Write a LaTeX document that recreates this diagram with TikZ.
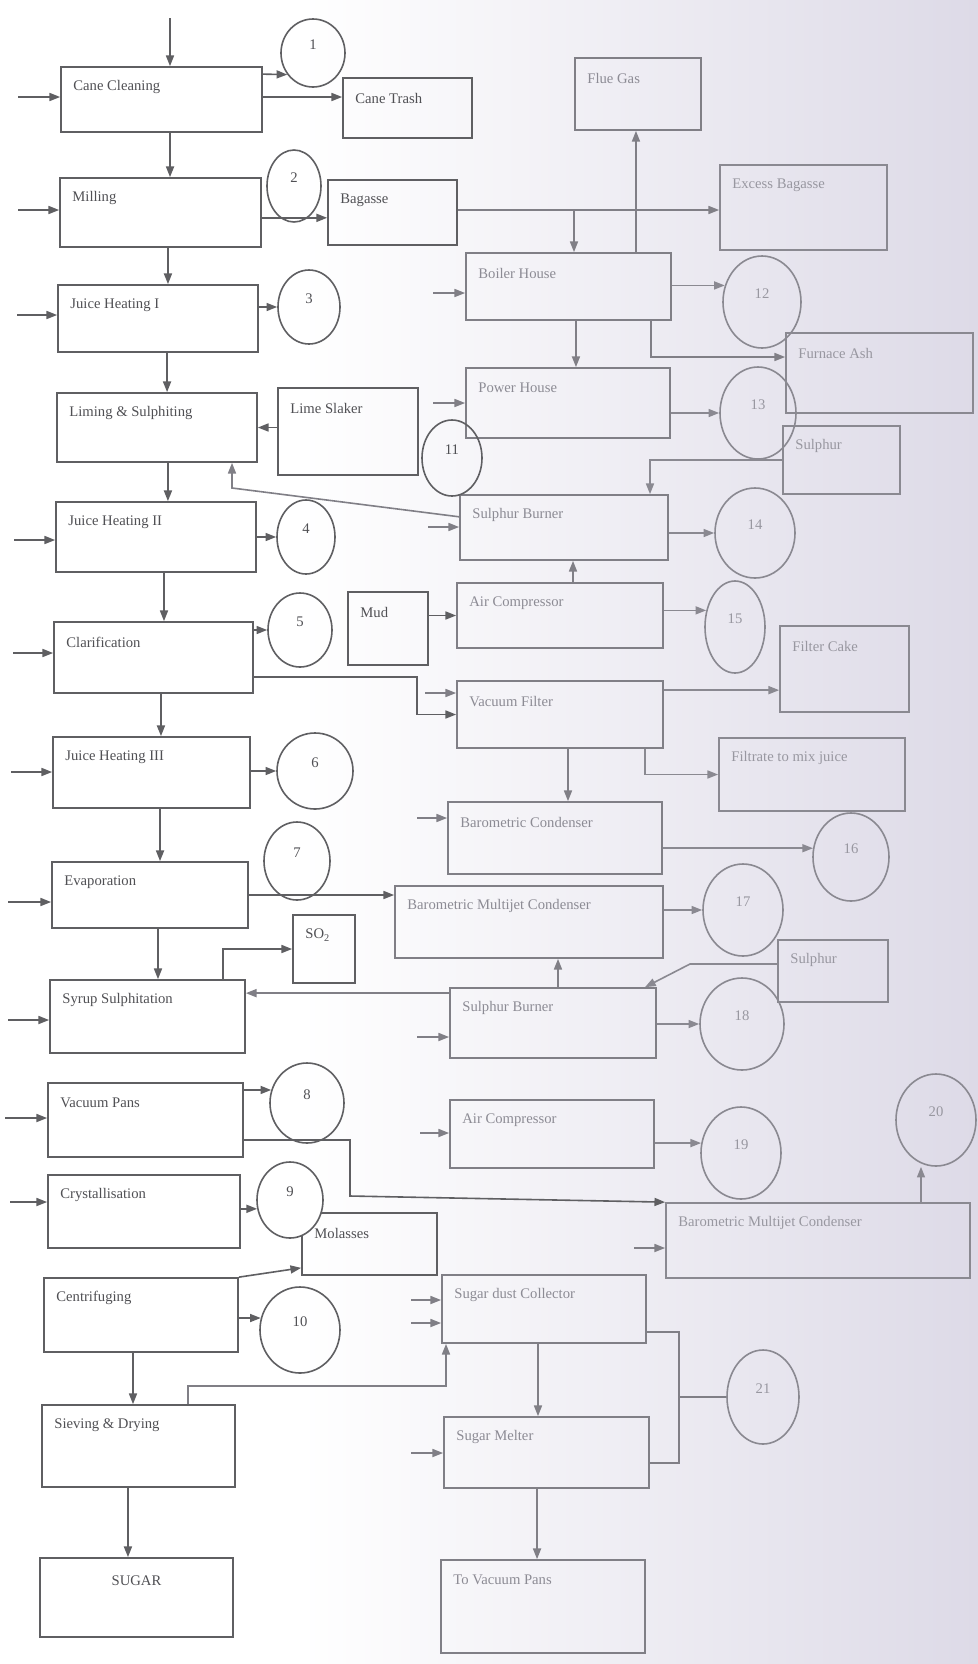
\documentclass[tikz,border=0pt]{standalone}
\usepackage{fontspec}
\setmainfont{Liberation Serif}
\usetikzlibrary{shapes.geometric,arrows.meta,calc}
\definecolor{dline}{RGB}{95,95,98}
\definecolor{dtext}{RGB}{80,80,84}
\definecolor{mline}{RGB}{128,127,134}
\definecolor{mtext}{RGB}{140,139,148}
\definecolor{fline}{RGB}{138,137,145}
\definecolor{ftext}{RGB}{152,151,160}
\definecolor{bgr}{RGB}{221,218,231}
\tikzset{
  pbx/.style={draw, rectangle, inner sep=0pt, line width=1.3pt},
  circ/.style={draw, ellipse, inner sep=0pt, line width=1.2pt},
  lbl/.style={font=\fontsize{11}{13}\selectfont, inner sep=0pt},
  bxd/.style={draw=dline}, bxm/.style={draw=mline}, bxf/.style={draw=fline},
  lbd/.style={text=dtext}, lbm/.style={text=mtext}, lbf/.style={text=ftext},
  arr/.style={line width=1.2pt, -{Triangle[length=8pt,width=6pt]}},
  arrd/.style={arr, draw=dline}, arrm/.style={arr, draw=mline}, arrf/.style={arr, draw=fline},
  lnm/.style={line width=1.2pt, draw=mline}
}
\newcommand{\mkbox}[7]{%
  \pgfmathsetmacro{\mkbw}{(#5-#3)*0.75}%
  \pgfmathsetmacro{\mkbh}{(#6-#4)*0.75}%
  \node[pbx,bx#1,minimum width=\mkbw pt,minimum height=\mkbh pt] (#2) at ({(#3+#5)/2},{(#4+#6)/2}) {};%
  \node[lbl,lb#1,anchor=west] (#2-t) at ($(#2.north west)+(13,21)$) {#7};%
}
\newcommand{\mkcirc}[7]{%
  \pgfmathsetmacro{\mkbw}{2*#5*0.75}%
  \pgfmathsetmacro{\mkbh}{2*#6*0.75}%
  \node[circ,bx#1,minimum width=\mkbw pt,minimum height=\mkbh pt] (#2) at (#3,#4) {};%
  \node[lbl,lb#1] (#2-t) at (#3,#4-8) {#7};%
}
\begin{document}
\begin{tikzpicture}[x=0.75pt,y=-0.75pt]
\useasboundingbox (0,0) rectangle (978,1664);
\fill[white] (0,0) rectangle (978,1664);
\shade[left color=white,right color=bgr] (300,0) rectangle (978,1664);

% left column
\mkbox{d}{cc}{61}{67}{262}{132}{Cane Cleaning}
\mkbox{d}{mil}{60}{178}{261}{247}{Milling}
\mkbox{d}{jh1}{58}{285}{258}{352}{Juice Heating I}
\mkbox{d}{lim}{57}{393}{257}{462}{Liming \& Sulphiting}
\mkbox{d}{jh2}{56}{502}{256}{572}{Juice Heating II}
\mkbox{d}{cla}{54}{622}{253}{693}{Clarification}
\mkbox{d}{jh3}{53}{737}{250}{808}{Juice Heating III}
\mkbox{d}{eva}{52}{862}{248}{928}{Evaporation}
\mkbox{d}{syr}{50}{980}{245}{1053}{Syrup Sulphitation}
\mkbox{d}{vp}{48}{1083}{243}{1157}{Vacuum Pans}
\mkbox{d}{cry}{48}{1175}{240}{1248}{Crystallisation}
\mkbox{d}{cen}{44}{1278}{238}{1352}{Centrifuging}
\mkbox{d}{sie}{42}{1405}{235}{1487}{Sieving \& Drying}
\mkbox{d}{sug}{40}{1558}{233}{1637}{}
\node[lbl,lbd] (sug-lab) at ($(sug.north)+(0,24)$) {SUGAR};

% middle and right boxes
\mkbox{d}{ct}{343}{78}{472}{138}{Cane Trash}
\mkbox{d}{bag}{328}{180}{457}{245}{Bagasse}
\mkbox{m}{fg}{575}{58}{701}{130}{Flue Gas}
\mkbox{f}{eb}{720}{165}{887}{250}{Excess Bagasse}
\mkbox{m}{bh}{466}{253}{671}{320}{Boiler House}
\mkbox{f}{fa}{786}{333}{973}{413}{Furnace Ash}
\mkbox{m}{ph}{466}{368}{670}{438}{Power House}
\mkbox{d}{ls}{278}{388}{418}{475}{Lime Slaker}
\mkbox{f}{sul1}{783}{426}{900}{494}{Sulphur}
\mkbox{m}{sb}{460}{495}{668}{560}{Sulphur Burner}
\mkbox{d}{mud}{348}{592}{428}{665}{Mud}
\mkbox{m}{ac}{457}{583}{663}{648}{Air Compressor}
\mkbox{f}{fc}{780}{626}{909}{712}{Filter Cake}
\mkbox{m}{vf}{457}{681}{663}{748}{Vacuum Filter}
\mkbox{f}{fmj}{719}{738}{905}{811}{Filtrate to mix juice}
\mkbox{m}{bc}{448}{802}{662}{874}{Barometric Condenser}
\mkbox{m}{bmc}{395}{886}{663}{958}{Barometric Multijet Condenser}
\mkbox{d}{so2}{293}{915}{355}{983}{SO\textsubscript{2}}
\mkbox{f}{sul2}{778}{940}{888}{1002}{Sulphur}
\mkbox{m}{sb2}{450}{988}{656}{1058}{Sulphur Burner}
\mkbox{m}{ac2}{450}{1100}{654}{1168}{Air Compressor}
\mkbox{f}{bmc2}{666}{1203}{970}{1278}{Barometric Multijet Condenser}
\mkbox{d}{mol}{302}{1213}{437}{1275}{Molasses}
\mkbox{m}{sdc}{442}{1275}{646}{1343}{Sugar dust Collector}
\mkbox{m}{sm}{444}{1417}{649}{1488}{Sugar Melter}
\mkbox{m}{tvp}{441}{1560}{645}{1653}{To Vacuum Pans}

% circles
\mkcirc{d}{c1}{313}{53}{32}{34}{1}
\mkcirc{d}{c2}{294}{186}{27}{36}{2}
\mkcirc{d}{c3}{309}{307}{31}{37}{3}
\mkcirc{d}{c4}{306}{537}{29}{37}{4}
\mkcirc{d}{c5}{300}{630}{32}{37}{5}
\mkcirc{d}{c6}{315}{771}{38}{38}{6}
\mkcirc{d}{c7}{297}{861}{33}{39}{7}
\mkcirc{d}{c8}{307}{1103}{37}{40}{8}
\node[circ,bxd,fill=white,minimum width=49.5pt,minimum height=57pt] (c9) at (290,1200) {};
\node[lbl,lbd] (c9-t) at (290,1192) {9};
\mkcirc{d}{c10}{300}{1330}{40}{43}{10}
\mkcirc{d}{c11}{452}{458}{30}{38}{11}
\mkcirc{f}{c12}{762}{302}{39}{46}{12}
\mkcirc{f}{c13}{758}{413}{38}{46}{13}
\mkcirc{f}{c14}{755}{533}{40}{45}{14}
\mkcirc{f}{c15}{735}{627}{30}{46}{15}
\mkcirc{f}{c16}{851}{857}{38}{44}{16}
\mkcirc{f}{c17}{743}{910}{40}{46}{17}
\mkcirc{f}{c18}{742}{1024}{42}{46}{18}
\mkcirc{f}{c19}{741}{1153}{40}{46}{19}
\mkcirc{f}{c20}{936}{1120}{40}{46}{20}
\mkcirc{f}{c21}{763}{1397}{36}{47}{21}

% free ends
\coordinate (top-in) at (170,18);
\coordinate (in-cc) at (18,97);
\coordinate (in-mil) at (18,210);
\coordinate (in-jh1) at (17,315);
\coordinate (in-jh2) at (14,540);
\coordinate (in-cla) at (13,653);
\coordinate (in-jh3) at (11,772);
\coordinate (in-eva) at (8,902);
\coordinate (in-syr) at (8,1020);
\coordinate (in-vp) at (5,1118);
\coordinate (in-cry) at (10,1202);
\coordinate (in-bh) at (433,293);
\coordinate (in-ph) at (433,403);
\coordinate (in-sb) at (428,527);
\coordinate (in-vf) at (425,693);
\coordinate (in-bc) at (417,818);
\coordinate (in-sb2) at (417,1037);
\coordinate (in-ac2) at (420,1133);
\coordinate (in-bmc2) at (634,1248);
\coordinate (in-sdc1) at (411,1300);
\coordinate (in-sdc2) at (411,1323);
\coordinate (in-sm) at (411,1453);
\coordinate (bj) at (574,210);
\coordinate (lk) at (232,488);
\coordinate (cv) at (417,677);
\coordinate (sk) at (690,964);
\coordinate (v1) at (350,1140);
\coordinate (v2) at (350,1196);
\coordinate (s1) at (188,1386);
\coordinate (s2) at (446,1386);
\coordinate (j1) at (679,1332);
\coordinate (j2) at (679,1463);
\coordinate (j3) at (679,1397);

% left inputs
\draw[arrd] (top-in) -- (top-in |- cc.north);
\foreach \b in {cc,mil,jh1,jh2,cla,jh3,eva,syr,vp,cry}
  \draw[arrd] (in-\b) -- (in-\b -| \b.west);

% down the main line
\draw[arrd] ([xshift=6.4pt]cc.south) -- ([xshift=6.4pt]cc.south |- mil.north);
\draw[arrd] ([xshift=5.6pt]mil.south) -- ([xshift=5.6pt]mil.south |- jh1.north);
\draw[arrd] ([xshift=6.8pt]jh1.south) -- ([xshift=6.8pt]jh1.south |- lim.north);
\draw[arrd] ([xshift=8.2pt]lim.south) -- ([xshift=8.2pt]lim.south |- jh2.north);
\draw[arrd] ([xshift=6pt]jh2.south) -- ([xshift=6pt]jh2.south |- cla.north);
\draw[arrd] ([xshift=5.6pt]cla.south) -- ([xshift=5.6pt]cla.south |- jh3.north);
\draw[arrd] ([xshift=6.4pt]jh3.south) -- ([xshift=6.4pt]jh3.south |- eva.north);
\draw[arrd] ([xshift=6pt]eva.south) -- ([xshift=6pt]eva.south |- syr.north);
\draw[arrd] ([xshift=-6pt]cen.south) -- ([xshift=-6pt]cen.south |- sie.north);
\draw[arrd] ([xshift=-7.9pt]sie.south) -- ([xshift=-7.9pt]sie.south |- sug.north);

% to circles on the left
\draw[arrd] ([yshift=-6pt]cc.north east) -- (c1.220);
\draw[arrd] (jh1.east |- c3.west) -- (c3.west);
\draw[arrd] (jh2.east |- c4.west) -- (c4.west);
\draw[arrd] (cla.east |- c5.west) -- (c5.west);
\draw[arrd] (jh3.east |- c6.west) -- (c6.west);
\draw[arrd] (vp.east |- c8.160) -- (c8.160);
\draw[arrd] (cry.east |- c9.195) -- (c9.195);
\draw[arrd] (cen.east |- c10.163) -- (c10.163);

% side products
\draw[arrd] ([yshift=8.25pt]cc.east |- ct.west) -- ([yshift=8.25pt]ct.west);
\draw[arrd] ([yshift=-4pt]mil.east) -- ([yshift=-4pt]bag.west);
\draw[arrd] (ls.west |- lim.east) -- (lim.east);
\draw[arrd] ([xshift=56.6pt]syr.north) |- (so2.west);
\draw[arrm] ([yshift=-4.5pt]sb2.north west) -- ([yshift=-4.5pt]sb2.north west -| syr.east);
\draw[arrm] ([yshift=-17pt]sb.north west) -- (lk) -- (lk |- lim.south);
\draw[arrd] (mud.east |- ac.west) -- (ac.west);
\draw[arrd] (cla.east |- cv) -- (cv) |- (vf.west);
\draw[arrd] (eva.east) -- (eva.east -| bmc.west);
\draw[arrd] (vp.east |- v1) -- (v1) -- (v2) -- (bmc2.north west);
\draw[arrd] (cen.north east) -- ([yshift=6pt]mol.south west);
\draw[arrm] (s1 |- sie.north) -- (s1) -- (s2) -- (s2 |- sdc.south);

% bagasse and boiler
\draw[arrm] (bag.east |- bj) -- (eb.west |- bj);
\draw[arrm] (bj) -- (bj |- bh.north);
\draw[arrm] ([xshift=50.6pt]bh.north) -- ([xshift=50.6pt]bh.north |- fg.south);
\draw[arrf] (bh.east |- c12.156) -- (c12.156);
\draw[arrm] ([xshift=61.9pt]bh.south) |- ([yshift=12pt]fa.west);
\draw[arrm] ([xshift=5.6pt]bh.south) -- ([xshift=5.6pt]bh.south |- ph.north);
\draw[arrf] (ph.east |- c13.west) -- (c13.west);

% middle inputs
\foreach \b in {bh,ph,sb,vf,bc,sb2,ac2,bmc2}
  \draw[arrm] (in-\b) -- (in-\b -| \b.west);
\draw[arrm] (in-sdc1) -- (in-sdc1 -| sdc.west);
\draw[arrm] (in-sdc2) -- (in-sdc2 -| sdc.west);
\draw[arrm] (in-sm) -- (in-sm -| sm.west);

% sulphur burner, compressor, filter
\draw[arrf] (sul1.west) -| ([xshift=64.5pt]sb.north);
\draw[arrf] (sb.east |- c14.west) -- (c14.west);
\draw[arrm] ([xshift=9.75pt]ac.north) -- ([xshift=9.75pt]ac.north |- sb.south);
\draw[arrf] (ac.east |- c15.150) -- (c15.150);
\draw[arrf] ([yshift=-7.5pt]vf.north east) -- ([yshift=-7.5pt]vf.north east -| fc.west);
\draw[arrf] ([xshift=63.75pt]vf.south) |- (fmj.west);
\draw[arrm] ([xshift=6pt]vf.south) -- ([xshift=6pt]vf.south |- bc.north);
\draw[arrf] (bc.east |- c16.167) -- (c16.167);
\draw[arrf] (bmc.east |- c17.west) -- (c17.west);
\draw[arrf] (sul2.west |- sk) -- (sk) -- ([xshift=69pt]sb2.north);
\draw[arrm] ([xshift=3.75pt]sb2.north) -- ([xshift=3.75pt]sb2.north |- bmc.south);
\draw[arrf] (sb2.east |- c18.west) -- (c18.west);
\draw[arrf] (ac2.east |- c19.166) -- (c19.166);
\draw[arrf] ([xshift=77.25pt]bmc2.north) -- ([xshift=77.25pt]bmc2.north |- c20.south);

% sugar dust collector and melter
\draw[arrm] ([xshift=-4.5pt]sdc.south) -- ([xshift=-4.5pt]sdc.south |- sm.north);
\draw[lnm] (sdc.east |- j1) -- (j1) -- (j2) -- (j2 -| sm.east);
\draw[lnm] (j3) -- (c21.west);
\draw[arrm] ([xshift=-7.1pt]sm.south) -- ([xshift=-7.1pt]sm.south |- tvp.north);
\end{tikzpicture}
\end{document}
